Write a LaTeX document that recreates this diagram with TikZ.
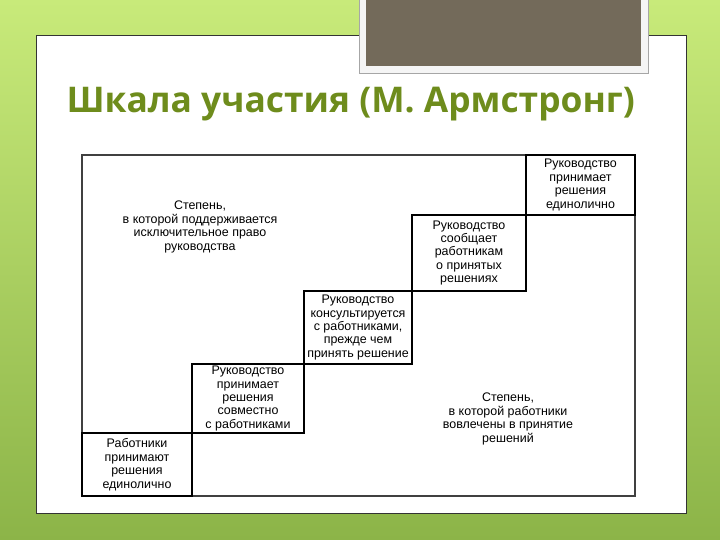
\documentclass[tikz,border=0pt]{standalone}
\usepackage{fontspec}
\setmainfont{Liberation Sans}
\newfontfamily\titlefont{Open Sans}
\definecolor{bgtop}{RGB}{200,234,122}
\definecolor{bgbot}{RGB}{140,180,72}
\definecolor{taupe}{RGB}{115,106,90}
\definecolor{titlegreen}{RGB}{110,140,28}
\tikzset{
  stepbox/.style={draw=black, line width=1.5bp, inner sep=0pt, outer sep=0pt,
    align=center, font=\fontsize{12.5}{13.5}\selectfont},
  freetext/.style={align=center, font=\fontsize{12.5}{13.5}\selectfont},
}
\begin{document}
\begin{tikzpicture}[x=1bp,y=-1bp]%
\useasboundingbox (0,0) rectangle (720,540);
% slide
\shade[top color=bgtop, bottom color=bgbot] (0,0) rectangle (720,540);
\draw[line width=1bp, draw=black!80, fill=white] (36,36) rectangle (686,513);
\draw[line width=0.6bp, draw=black!35, fill=black!4] (359,-2) rectangle (648,73);
\fill[taupe] (366,-2) rectangle (641,66);
\node[font=\titlefont\bfseries\fontsize{35.5}{40}\selectfont, text=titlegreen,
  anchor=base west] (title) at (63,113) {Шкала участия (М. Армстронг)};
% scale
\draw[line width=1.2bp, draw=black!75] (82,155) rectangle (635,496);
\node[stepbox, minimum width=109bp, minimum height=60bp] (s1) at (580.5,185)
  {Руководство\\принимает\\решения\\единолично};
\node[stepbox, minimum width=114bp, minimum height=76bp, anchor=north east] (s2)
  at (s1.south west) {Руководство\\сообщает\\работникам\\о принятых\\решениях};
\node[stepbox, minimum width=108bp, minimum height=73bp, anchor=north east] (s3)
  at (s2.south west) {Руководство\\консультируется\\с работниками,\\прежде чем\\принять решение};
\node[stepbox, minimum width=112bp, minimum height=69bp, anchor=north east] (s4)
  at (s3.south west) {Руководство\\принимает\\решения\\совместно\\с работниками};
\node[stepbox, minimum width=110bp, minimum height=63bp, anchor=north east] (s5)
  at (s4.south west) {Работники\\принимают\\решения\\единолично};
\node[freetext] (manager) at (200,227)
  {Степень,\\в которой поддерживается\\исключительное право\\руководства};
\node[freetext] (staff) at (508,419)
  {Степень,\\в которой работники\\вовлечены в принятие\\решений};
\end{tikzpicture}
\end{document}
